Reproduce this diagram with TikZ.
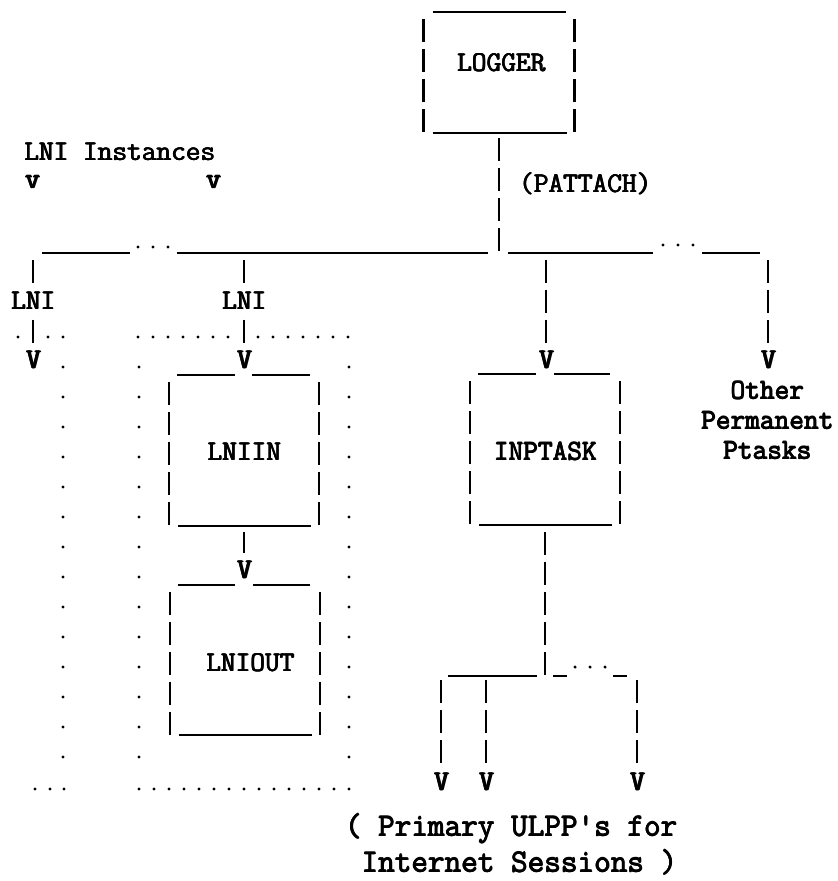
\documentclass[tikz,border=0pt]{standalone}
\usepackage{fontspec}
\usetikzlibrary{calc}
\newcommand\hvy[1]{\rlap{#1}\rlap{\kern0.65pt#1}\rlap{\kern0.33pt\raisebox{0.4pt}{#1}}#1}
\newcommand\hvyb[1]{\rlap{#1}\rlap{\kern1.1pt#1}\rlap{\kern0.55pt\raisebox{0.5pt}{#1}}#1}
\begin{document}
\begin{tikzpicture}[x=0.75pt,y=-0.75pt,
  every node/.style={inner sep=0pt, outer sep=0pt},
  txt/.style={font=\ttfamily\fontsize{21.4}{22.5}\selectfont},
  boldtxt/.style={font=\ttfamily\fontsize{21.4}{22.5}\selectfont},
  captxt/.style={font=\ttfamily\fontsize{24.2}{27}\selectfont},
  arrowv/.style={boldtxt, minimum height=25.5pt},
  lnitxt/.style={txt, minimum height=27.75pt},
  frame/.style={minimum width=112.5pt, minimum height=113.25pt},
  hl/.style={line width=1.7pt},
  vp/.style={line width=2.1pt, dash pattern=on 17.25pt off 5.25pt}
]
\useasboundingbox[fill=white] (0,0) rectangle (838,881);

% ---- boxes (frames) ----
\node[frame, minimum width=113.25pt, minimum height=90.75pt] (logger) at (499,72.5) {};
\node[txt] (loggerlbl) at (501,63) {\hvy{LOGGER}};
\node[frame] (inptask) at (545,449.5) {};
\node[txt] (inptasklbl) at (545,451) {\hvy{INPTASK}};
\node[frame] (lniin) at (244,450.5) {};
\node[txt] (lniinlbl) at (244,452) {\hvy{LNIIN}};
\node[frame, minimum height=112.5pt] (lniout) at (245,660) {};
\node[txt, anchor=west] (lnioutlbl) at (206,663) {\hvy{LNIOUT}};

\foreach \b in {logger,inptask,lniin,lniout}{
  \draw[vp] ($(\b.north west)+(0,7)$) -- (\b.south west);
  \draw[vp] ($(\b.north east)+(0,7)$) -- (\b.south east);
  \draw[hl] ($(\b.south west)+(9,0)$) -- ($(\b.south east)+(-8,0)$);
}

% ---- arrowheads and labels ----
\node[lnitxt] (lniL) at (33,301) {\hvy{LNI}};
\node[lnitxt] (lniM) at (244,301) {\hvy{LNI}};
\node[arrowv] (vL) at (33,360) {\hvyb{V}};
\node[arrowv] (vM) at (244,360) {\hvyb{V}};
\node[arrowv] (vI) at (546,360) {\hvyb{V}};
\node[arrowv] (vO) at (768,360) {\hvyb{V}};
\node[arrowv] (vIO) at (244,570) {\hvyb{V}};
\node[arrowv] (vb1) at (441,782) {\hvyb{V}};
\node[arrowv] (vb2) at (486,782) {\hvyb{V}};
\node[arrowv] (vb3) at (637,782) {\hvyb{V}};

\node[txt, anchor=west] (lniinst) at (24,152) {\hvy{LNI Instances}};
\node[boldtxt] (ptr1) at (32,182) {\hvyb{v}};
\node[boldtxt] (ptr2) at (213,182) {\hvyb{v}};
\node[txt] (pattach) at (585,184) {\hvy{(PATTACH)}};
\node[txt, align=center] (other) at (767,420) {\hvy{Other}\\\hvy{Permanent}\\\hvy{Ptasks}};
\node[captxt, anchor=base east] (cap1) at (677,836) {\hvy{( Primary ULPP's for}};
\node[captxt, anchor=base east] (cap2) at (677,872) {\hvy{Internet Sessions )}};

% ---- box tops (split by arrowheads) ----
\draw[hl] ($(logger.north west)+(9,0)$) -- ($(logger.north east)+(-9,0)$);
\draw[hl] ($(inptask.north west)+(8,0)$) -- ($(vI |- inptask.north)+(-10,0)$);
\draw[hl] ($(vI |- inptask.north)+(8,0)$) -- ($(inptask.north east)+(-10,0)$);
\draw[hl] ($(lniin.north west)+(8,0)$) -- ($(vM |- lniin.north)+(-9,0)$);
\draw[hl] ($(vM |- lniin.north)+(8,0)$) -- ($(lniin.north east)+(-9,0)$);
\draw[hl] ($(lniout.north west)+(8,0)$) -- ($(vIO |- lniout.north)+(-9,0)$);
\draw[hl] ($(vIO |- lniout.north)+(9,0)$) -- ($(lniout.north east)+(-10,0)$);

% ---- main bus ----
\coordinate (j) at (499,253);
\draw[vp] ($(logger.south)+(0,5)$) -- (j);
\draw[hl] (42,253) -- (130,253);
\draw[hl] (177,253) -- (488,253);
\draw[hl] (508,253) -- (653,253);
\draw[hl] (702,253) -- (760,253);
\foreach \x in {138,153,168} \fill (\x,247) circle[radius=1.3pt];
\foreach \x in {663,678,693} \fill (\x,245) circle[radius=1.3pt];

\coordinate (dL) at (33,260);
\coordinate (dM) at (244,260);
\coordinate (dI) at (546,260);
\coordinate (dO) at (768,260);
\draw[vp] (dL) -- (lniL);
\draw[vp] (lniL) -- (vL);
\draw[vp] (dM) -- (lniM);
\draw[vp] (lniM) -- (vM);
\draw[vp] (dI) -- (vI);
\draw[vp] (dO) -- (vO);

\draw[vp] ($(lniin.south)+(0,6)$) -- (vIO);

% ---- INPTASK fan-out ----
\coordinate (j2) at (545,676);
\draw[vp] ($(inptask.south)+(0,7)$) -- (j2);
\draw[hl] (448,676) -- (537,676);
\draw[hl] (553,676) -- (567,676);
\draw[hl] (613,676) -- (627,676);
\foreach \x in {575,590,605} \fill (\x,667) circle[radius=1.3pt];
\coordinate (b1) at (441,680);
\coordinate (b2) at (486,680);
\coordinate (b3) at (637,680);
\draw[vp] (b1) -- (vb1);
\draw[vp] (b2) -- (vb2);
\draw[vp] (b3) -- (vb3);

% ---- dotted LNI instance outlines ----
\foreach \x in {18,48,63} \fill (\x,337) circle[radius=1.3pt];
\foreach \k in {1,...,14} \fill (63,{337+30*\k}) circle[radius=1.3pt];
\foreach \x in {35,50,64} \fill (\x,789) circle[radius=1.3pt];

\foreach \x in {138,153,...,228} \fill (\x,337) circle[radius=1.3pt];
\foreach \x in {258,273,...,348} \fill (\x,337) circle[radius=1.3pt];
\foreach \k in {1,...,14} {
  \fill (139,{337+30*\k}) circle[radius=1.3pt];
  \fill (349,{337+30*\k}) circle[radius=1.3pt];
}
\foreach \x in {139,154,...,349} \fill (\x,789) circle[radius=1.3pt];
\end{tikzpicture}
\end{document}
